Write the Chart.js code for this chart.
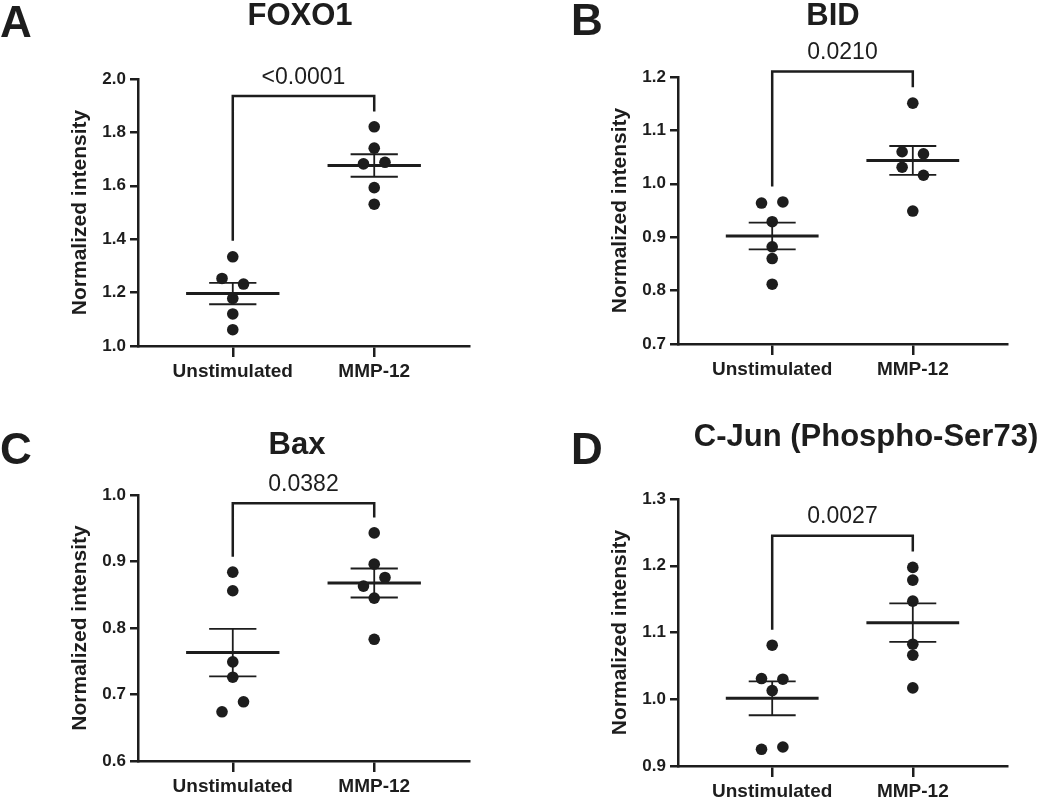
<!DOCTYPE html>
<html>
<head>
<meta charset="utf-8">
<script src="https://cdn.jsdelivr.net/npm/chart.js@4/dist/chart.umd.min.js"></script>
<style>
  body { margin: 0; background: #fff; }
  .panel { position: absolute; width: 525px; height: 399px; }
</style>
</head>
<body>
<div class="panel" style="left:0;top:0"><canvas id="c0" width="525" height="399"></canvas></div>
<div class="panel" style="left:525px;top:0"><canvas id="c1" width="525" height="399"></canvas></div>
<div class="panel" style="left:0;top:399px"><canvas id="c2" width="525" height="399"></canvas></div>
<div class="panel" style="left:525px;top:399px"><canvas id="c3" width="525" height="399"></canvas></div>
<script>
// data
const groups = ['Unstimulated', 'MMP-12'];
const letters = ['A', 'B', 'C', 'D'];
const titles = ['FOXO1', 'BID', 'Bax', 'C-Jun (Phospho-Ser73)'];
const pValues = ['<0.0001', '0.0210', '0.0382', '0.0027'];

const foxo1Unstim = [1.334, 1.253, 1.232, 1.178, 1.120, 1.061];
const foxo1Mmp    = [1.821, 1.741, 1.682, 1.688, 1.593, 1.531];
const bidUnstim   = [0.964, 0.966, 0.929, 0.882, 0.860, 0.812];
const bidMmp      = [1.151, 1.060, 1.056, 1.031, 1.016, 0.949];
const baxUnstim   = [0.884, 0.856, 0.749, 0.726, 0.674, 0.689];
const baxMmp      = [0.943, 0.896, 0.863, 0.876, 0.845, 0.783];
const cjunUnstim  = [1.081, 1.031, 1.030, 1.013, 0.925, 0.9285];
const cjunMmp     = [1.1975, 1.1785, 1.147, 1.0825, 1.066, 1.017];

const yMin  = [1.0, 0.7, 0.6, 0.9];
const yMax  = [2.0, 1.2, 1.0, 1.3];
const yStep = [0.2, 0.1, 0.1, 0.1];

// significance brackets: top, left leg end, right leg end
const bracketTop   = [1.936, 1.2105, 0.9875, 1.245];
const bracketLeft  = [1.394, 0.995, 0.907, 1.104];
const bracketRight = [1.878, 1.181, 0.966, 1.2215];

const unstim = [foxo1Unstim, bidUnstim, baxUnstim, cjunUnstim];
const mmp = [foxo1Mmp, bidMmp, baxMmp, cjunMmp];

// page layout
const layouts = [
  {left:138, right:469, top:79,  bottom:346, letterX:0,  letterY:37, titleX:300, titleY:25},
  {left:153, right:482, top:77,  bottom:344, letterX:46, letterY:35, titleX:308, titleY:25},
  {left:138, right:469, top:96,  bottom:362, letterX:0,  letterY:65, titleX:297, titleY:55},
  {left:153, right:482, top:100, bottom:367, letterX:46, letterY:65, titleX:341, titleY:47}
];

const INK = '#1d1d1d';
const FONT = '"Liberation Sans", Arial, sans-serif';
Chart.defaults.font.family = FONT;
Chart.defaults.color = INK;

const X_MIN = 0.33, X_MAX = 2.67;
const MEAN_HALF = 0.33, CAP_HALF = 0.167;
const DOT_STEP = 0.076;   // sideways shift for overlapping dots

function meanOf(a) { return a.reduce((s, v) => s + v, 0) / a.length; }
function semOf(a) {
  const m = meanOf(a);
  const v = a.reduce((s, x) => s + (x - m) * (x - m), 0) / (a.length - 1);
  return Math.sqrt(v / a.length);
}

// spread dots that would overlap vertically (like a scatter dot plot)
function spread(vals, pxPerUnit) {
  const idx = vals.map((v, i) => i).sort((a, b) => vals[b] - vals[a]);
  const off = new Array(vals.length).fill(0);
  let cluster = [idx[0]];
  const flush = () => {
    const c = cluster.slice().sort((a, b) => a - b);
    const n = c.length;
    c.forEach((i, k) => {
      off[i] = (n % 2 ? 1 : 2) * (k - (n - 1) / 2) * DOT_STEP;
    });
  };
  for (let j = 1; j < idx.length; j++) {
    if ((vals[idx[j - 1]] - vals[idx[j]]) * pxPerUnit < 10.5) cluster.push(idx[j]);
    else { flush(); cluster = [idx[j]]; }
  }
  flush();
  return off;
}

function seg(pts, width) {
  return {
    data: pts, showLine: true, borderColor: INK, borderWidth: width,
    pointRadius: 0, fill: false, clip: false, tension: 0
  };
}

const panelDecor = {
  id: 'panelDecor',
  afterDraw(chart, args, o) {
    const ctx = chart.ctx, ca = chart.chartArea;
    const xs = chart.scales.x, ys = chart.scales.y;
    ctx.save();
    ctx.fillStyle = INK;
    ctx.textBaseline = 'alphabetic';
    ctx.textAlign = 'left';
    ctx.font = 'bold 44px ' + FONT;
    ctx.fillText(o.letter, o.letterX, o.letterY);
    ctx.textAlign = 'center';
    ctx.font = 'bold 31px ' + FONT;
    ctx.fillText(o.title, o.titleX, o.titleY);
    ctx.font = '23px ' + FONT;
    ctx.fillText(o.p, (xs.getPixelForValue(1) + xs.getPixelForValue(2)) / 2,
      ys.getPixelForValue(o.bracketTop) - 12.5);
    ctx.translate(ca.left - 58, (ca.top + ca.bottom) / 2);
    ctx.rotate(-Math.PI / 2);
    ctx.textBaseline = 'middle';
    ctx.font = 'bold 21px ' + FONT;
    ctx.fillText('Normalized intensity', 0, 0);
    ctx.restore();
  }
};

for (let p = 0; p < 4; p++) {
  const L = layouts[p];
  const pxPerUnit = (L.bottom - L.top) / (yMax[p] - yMin[p]);
  const sets = [];
  [unstim[p], mmp[p]].forEach((vals, g) => {
    const cx = g + 1;
    const off = spread(vals, pxPerUnit);
    const m = meanOf(vals), s = semOf(vals);
    sets.push(seg([{x: cx - MEAN_HALF, y: m}, {x: cx + MEAN_HALF, y: m}], 3));
    sets.push(seg([{x: cx, y: m - s}, {x: cx, y: m + s}], 1.8));
    sets.push(seg([{x: cx - CAP_HALF, y: m + s}, {x: cx + CAP_HALF, y: m + s}], 1.8));
    sets.push(seg([{x: cx - CAP_HALF, y: m - s}, {x: cx + CAP_HALF, y: m - s}], 1.8));
    sets.push({
      data: vals.map((v, i) => ({x: cx + off[i], y: v})),
      pointRadius: 5.8, pointBorderWidth: 0, pointBackgroundColor: INK,
      backgroundColor: INK, showLine: false, clip: false
    });
  });
  sets.push(seg([
    {x: 1, y: bracketLeft[p]}, {x: 1, y: bracketTop[p]},
    {x: 2, y: bracketTop[p]}, {x: 2, y: bracketRight[p]}
  ], 2.5));

  new Chart(document.getElementById('c' + p), {
    type: 'scatter',
    data: { datasets: sets },
    plugins: [panelDecor],
    options: {
      responsive: false,
      animation: false,
      events: [],
      layout: { padding: { top: L.top, right: 525 - L.right, left: 0, bottom: 0 } },
      plugins: {
        legend: { display: false },
        tooltip: { enabled: false },
        panelDecor: {
          letter: letters[p], letterX: L.letterX, letterY: L.letterY,
          title: titles[p], titleX: L.titleX, titleY: L.titleY,
          p: pValues[p], bracketTop: bracketTop[p]
        }
      },
      scales: {
        x: {
          type: 'linear', min: X_MIN, max: X_MAX,
          afterBuildTicks: sc => { sc.ticks = [{value: 1}, {value: 2}]; },
          afterFit: sc => { sc.height = 399 - L.bottom; },
          ticks: {
            callback: v => groups[Math.round(v) - 1],
            font: { size: 19, weight: 'bold' }, color: INK, padding: 3, maxRotation: 0
          },
          grid: { drawOnChartArea: false, drawTicks: true, tickLength: 11, color: INK, lineWidth: 2.5 },
          border: { display: true, color: INK, width: 2.5 }
        },
        y: {
          min: yMin[p], max: yMax[p],
          afterFit: sc => { sc.width = L.left; },
          ticks: {
            stepSize: yStep[p],
            callback: v => Number(v).toFixed(1),
            font: { size: 17, weight: 'bold' }, color: INK, padding: 4
          },
          grid: { drawOnChartArea: false, drawTicks: true, tickLength: 8, color: INK, lineWidth: 2.5 },
          border: { display: true, color: INK, width: 2.5 }
        }
      }
    }
  });
}
</script>
</body>
</html>
